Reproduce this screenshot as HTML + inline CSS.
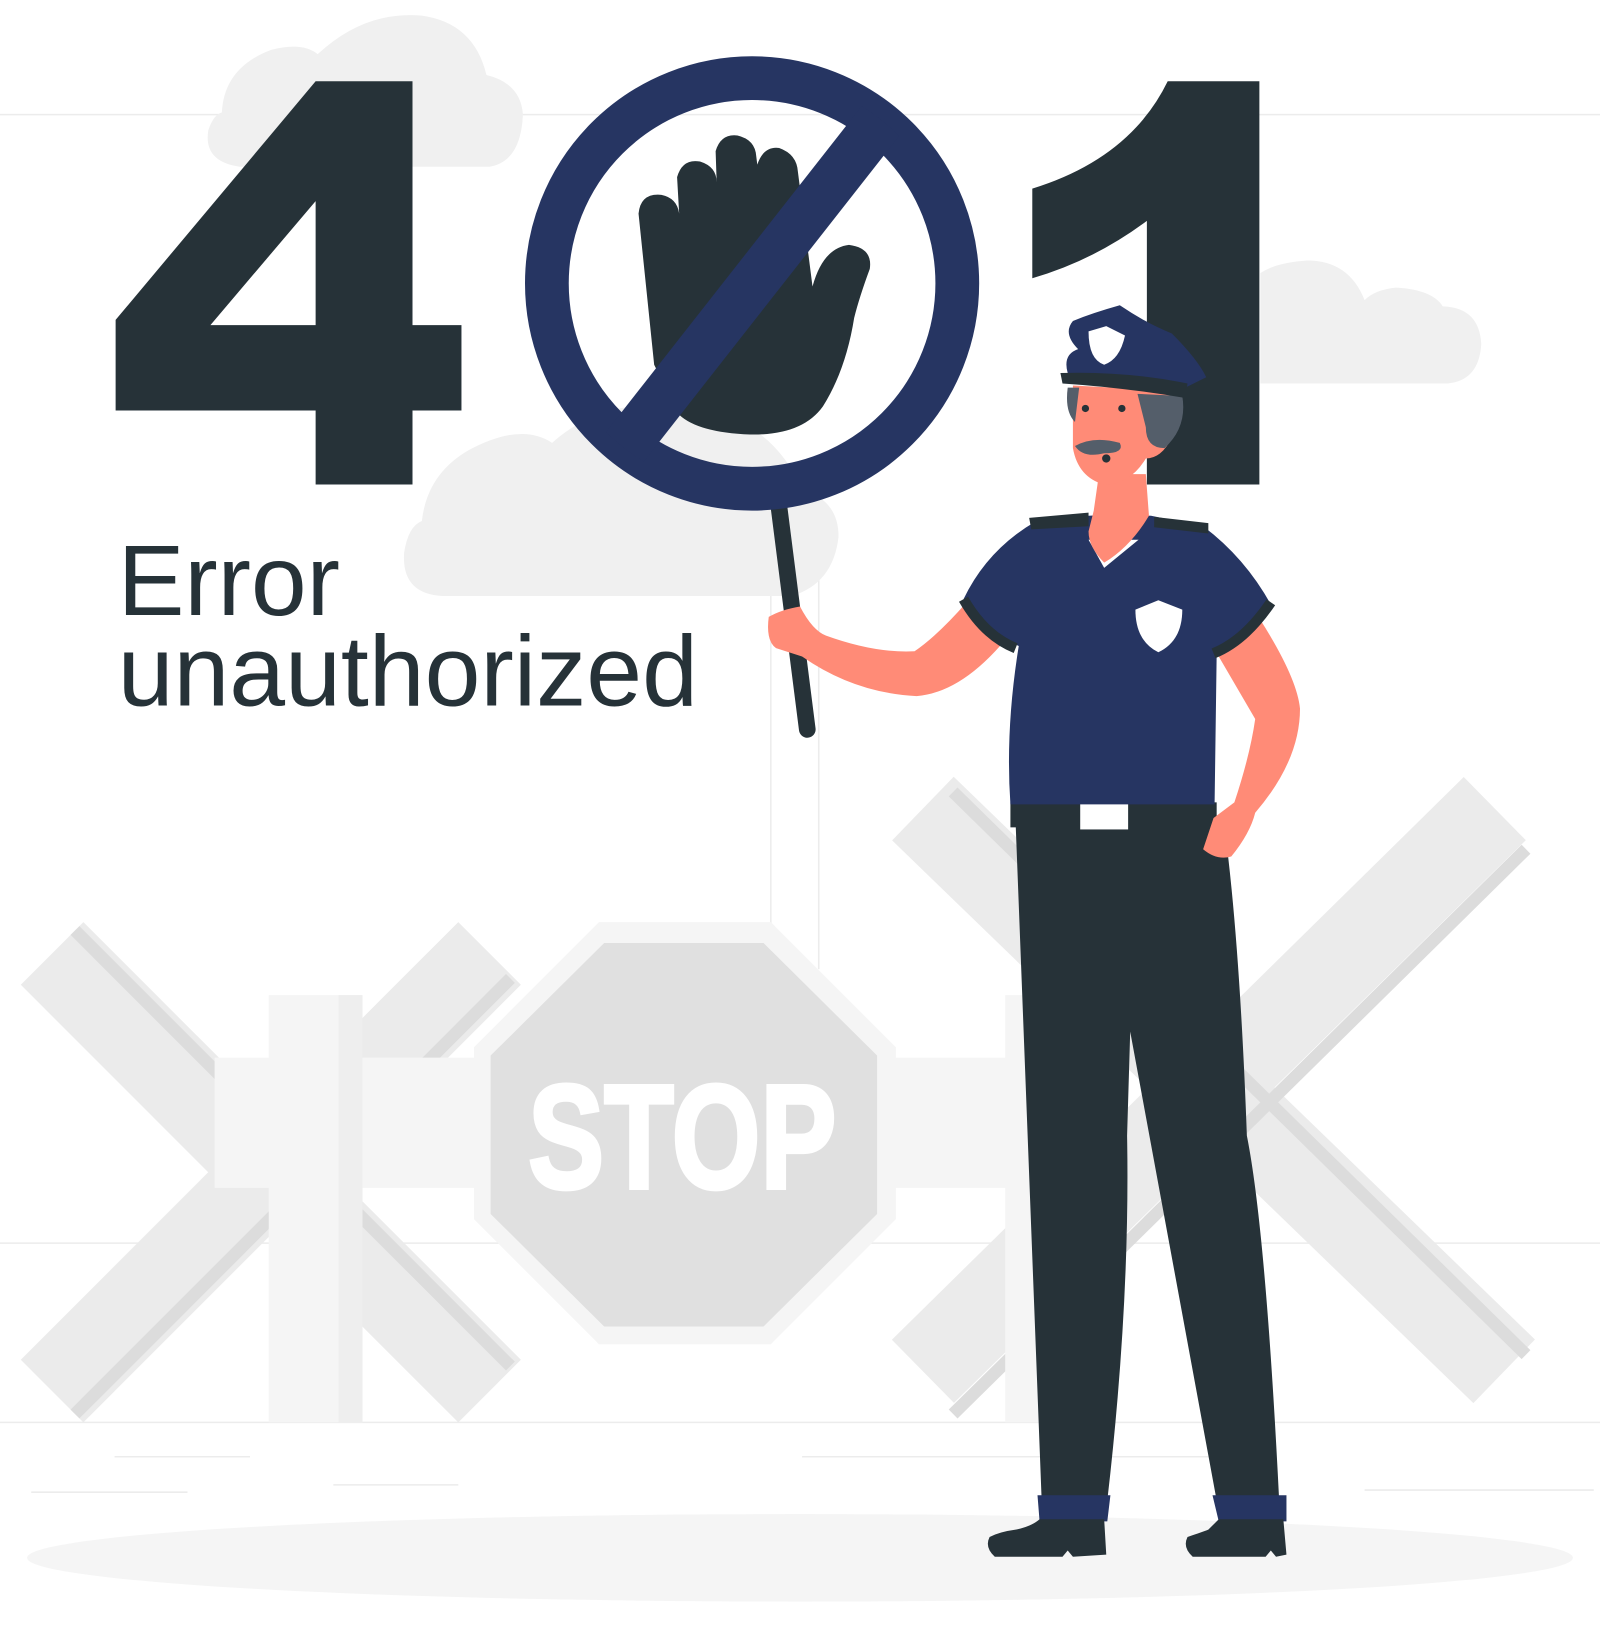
<!DOCTYPE html>
<html><head><meta charset="utf-8"><style>
html,body{margin:0;padding:0;background:#fff;}
svg{display:block;}
</style></head><body>
<svg width="1600" height="1637" viewBox="0 0 1536 1571" preserveAspectRatio="none" xmlns="http://www.w3.org/2000/svg">
<defs><clipPath id="cc"><circle cx="722" cy="272" r="200"/></clipPath></defs>
<rect width="1536" height="1571" fill="#fff"/>
<g stroke="#ececec" stroke-width="1.5">
<line x1="0" y1="110" x2="1536" y2="110"/>
<line x1="0" y1="1193" x2="1536" y2="1193"/>
<line x1="0" y1="1365" x2="1536" y2="1365"/>
<line x1="740" y1="480" x2="740" y2="930"/>
<line x1="786" y1="480" x2="786" y2="930"/>
<line x1="110" y1="1398" x2="240" y2="1398"/>
<line x1="320" y1="1425" x2="440" y2="1425"/>
<line x1="30" y1="1432" x2="180" y2="1432"/>
<line x1="770" y1="1398" x2="1160" y2="1398"/>
<line x1="1310" y1="1430" x2="1530" y2="1430"/>
</g>
<g fill="#f0f0f0">
<path d="M230,160 Q195,155 200,125 Q205,110 213,108 Q215,65 260,48 Q290,40 305,52 Q350,10 405,15 Q455,22 467,72 Q500,80 502,110 Q500,155 470,160 Z"/>
<path d="M425,572 Q385,570 388,530 Q392,505 405,500 Q410,455 450,432 Q500,405 530,425 Q580,380 660,390 Q740,400 770,470 Q805,480 805,515 Q800,560 760,572 Z"/>
<path d="M1210,368 L1390,368 Q1420,365 1422,330 Q1420,295 1385,294 Q1375,278 1340,276 Q1320,278 1310,288 Q1295,250 1255,250 Q1225,252 1210,262 Z"/>
</g>
<g stroke="#ebebeb" stroke-width="85" stroke-linecap="butt">
<line x1="50" y1="915" x2="470" y2="1335"/>
<line x1="470" y1="915" x2="50" y2="1335"/>
<line x1="886" y1="776" x2="1444" y2="1316"/>
<line x1="1435" y1="776" x2="886" y2="1316"/>
</g>
<g stroke="#dcdcdc" stroke-width="12">
<line x1="72" y1="893" x2="490" y2="1311"/>
<line x1="490" y1="939" x2="72" y2="1357"/>
<line x1="915" y1="760" x2="1465" y2="1300"/>
<line x1="1465" y1="815" x2="915" y2="1357"/>
</g>
<g fill="#f5f5f5">
<rect x="258" y="955" width="90" height="410"/>
<rect x="206" y="1015" width="255" height="125"/>
<rect x="965" y="955" width="40" height="410"/>
<rect x="852" y="1015" width="150" height="125"/>
</g>
<rect x="325" y="955" width="23" height="410" fill="#eeeeee"/>
<polygon points="575,885 740,885 860,1005 860,1170 740,1290 575,1290 455,1170 455,1005" fill="#f5f5f5"/>
<polygon points="580,905 733,905 842,1013 842,1165 733,1273 580,1273 471,1165 471,1013" fill="#e0e0e0"/>
<text x="655" y="1140" text-anchor="middle" font-family="Liberation Sans, sans-serif" font-weight="bold" font-size="142" fill="#fff" stroke="#fff" stroke-width="4" textLength="296" lengthAdjust="spacingAndGlyphs">STOP</text>
<ellipse cx="768" cy="1495" rx="742" ry="42" fill="#f5f5f5"/>
<path fill-rule="evenodd" fill="#263238" d="M303,78 L396,78 L396,312 L443,312 L443,394 L396,394 L396,465 L303,465 L303,394 L111,394 L111,307 Z M303,193 L303,312 L202,312 Z"/>
<path fill="#263238" d="M1121,78 L1209,78 L1209,465 L1101,465 L1101,212 Q1050,250 991,267 L991,181 Q1085,152 1121,78 Z"/>
<text x="113" y="590" font-family="Liberation Sans, sans-serif" font-size="96" fill="#263238">Error</text>
<text x="113" y="677" font-family="Liberation Sans, sans-serif" font-size="96" fill="#263238" textLength="557" lengthAdjust="spacingAndGlyphs">unauthorized</text>
<line x1="748" y1="488" x2="775" y2="700" stroke="#263238" stroke-width="16" stroke-linecap="round"/>
<path fill="#263238" d="M628,350 L613,205 Q615,185 635,187 Q650,190 652,205 L650,170 Q655,152 672,155 Q688,160 688,175 L687,145 Q692,128 708,130 Q725,134 726,150 L727,158 Q733,140 748,142 Q765,148 766,165 L780,275 Q790,238 815,235 Q838,238 835,258 Q825,285 820,305 Q812,355 790,390 Q770,418 720,417 Q670,415 652,398 Z"/>
<circle cx="722" cy="272" r="197" fill="none" stroke="#263562" stroke-width="42"/>
<line x1="850" y1="110" x2="595" y2="435" stroke="#263562" stroke-width="46" clip-path="url(#cc)"/>
<path fill="#263238" d="M975,790 L1175,790 Q1190,900 1197,1090 Q1215,1180 1228,1440 L1168,1440 L1085,990 L1082,1090 Q1085,1250 1063,1440 L1000,1440 Z"/>
<path fill="#263562" d="M996,1435 L1066,1435 L1063,1460 L998,1460 Z M1164,1435 L1235,1435 L1235,1460 L1170,1460 Z"/>
<path fill="#263238" d="M998,1458 L1060,1458 L1062,1492 L1030,1494 L1025,1488 L1020,1494 L955,1494 Q945,1485 950,1475 Q960,1470 975,1468 Q990,1465 998,1458 Z M1170,1458 L1232,1458 L1235,1492 L1225,1494 L1220,1488 L1215,1494 L1145,1494 Q1135,1485 1140,1475 Q1155,1470 1160,1468 Z"/>
<rect x="970" y="770" width="198" height="24" fill="#263238"/>
<rect x="1037" y="770" width="46" height="26" fill="#fff"/>
<path fill="#ff8b77" d="M960,620 Q920,665 880,668 Q820,665 770,630 L745,622 Q735,615 738,592 Q750,585 768,582 Q780,605 793,610 Q840,627 878,625 Q900,610 928,578 Z"/>
<path fill="#ff8b77" d="M1175,620 L1210,595 Q1245,650 1248,680 Q1248,730 1205,780 Q1200,800 1182,822 Q1168,826 1155,815 L1165,785 L1185,770 Q1200,725 1205,690 L1170,630 Z"/>
<path fill="#263562" d="M995,500 Q1045,492 1105,495 L1155,505 Q1195,535 1220,580 Q1195,615 1168,628 L1166,772 L970,772 Q965,700 978,620 Q948,605 925,575 Q948,527 995,500 Z"/>
<path fill="#fff" d="M1045,518 L1093,518 L1060,545 Z"/>
<path fill="#fff" d="M1090,585 L1112,576 L1135,585 Q1135,615 1112,626 Q1090,615 1090,585 Z"/>
<path fill="none" stroke="#263238" stroke-width="10" d="M925,575 Q945,610 975,622 M1220,578 Q1195,615 1165,627"/>
<path fill="#263238" d="M988,497 L1045,492 L1045,505 L990,508 Z M1108,496 L1160,502 L1160,512 L1108,506 Z"/>
<path fill="#ff8b77" d="M1055,455 L1100,455 L1103,495 Q1085,525 1060,540 Q1045,525 1045,510 L1050,490 Z"/>
<path fill="#ff8b77" d="M1030,370 L1125,375 Q1135,395 1125,420 Q1115,440 1100,440 Q1085,465 1060,465 Q1035,458 1030,430 Z"/>
<path fill="#545e6a" d="M1092,378 L1135,380 Q1140,410 1118,430 Q1100,430 1100,410 Z M1025,372 L1036,372 L1032,405 Q1022,395 1025,372 Z"/>
<path fill="#545e6a" d="M1032,428 Q1050,418 1075,425 Q1080,435 1060,435 Q1040,440 1032,428 Z"/>
<circle cx="1042" cy="392" r="3.5" fill="#263238"/>
<circle cx="1077" cy="392" r="3.5" fill="#263238"/>
<circle cx="1062" cy="440" r="4" fill="#263238"/>
<path fill="#263562" d="M1030,308 Q1050,300 1075,293 Q1100,310 1125,320 Q1150,345 1158,362 L1138,372 Q1080,358 1025,358 Q1020,340 1035,335 Q1020,320 1030,308 Z"/>
<path fill="#263238" d="M1018,358 Q1080,356 1140,368 L1138,382 Q1080,372 1020,368 Z"/>
<path fill="#fff" d="M1045,318 L1062,313 L1080,322 Q1075,345 1060,350 Q1045,345 1045,318 Z"/>
</svg>
</body></html>
